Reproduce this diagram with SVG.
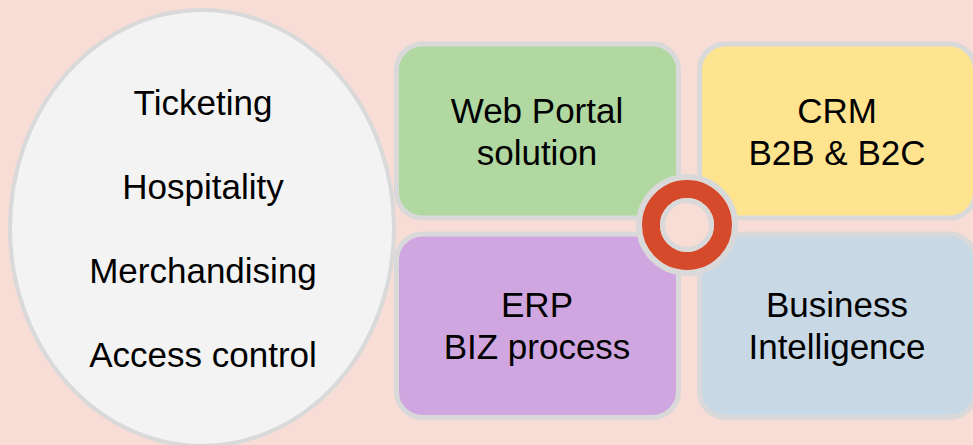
<svg xmlns="http://www.w3.org/2000/svg" width="973" height="445" viewBox="0 0 973 445">
  <style>
    .lbl { font-family: "Liberation Sans", Arial, sans-serif; font-size: 35px; fill: #000; text-anchor: middle; }
    .box { stroke: #d9d9d9; stroke-width: 5; }
  </style>
  <rect x="0" y="0" width="973" height="445" fill="#f8dcd6"/>
  <g id="segments">
    <ellipse cx="202" cy="228" rx="192" ry="218" fill="#f3f3f3" stroke="#d9d9d9" stroke-width="4"/>
    <text class="lbl" x="203" y="115">Ticketing</text>
    <text class="lbl" x="203" y="199">Hospitality</text>
    <text class="lbl" x="203" y="283">Merchandising</text>
    <text class="lbl" x="203" y="367">Access control</text>
  </g>
  <g id="web-portal">
    <rect class="box" x="396.5" y="44" width="282" height="174" rx="26" fill="#b0d8a0"/>
    <text class="lbl" x="537" y="123">Web Portal</text>
    <text class="lbl" x="537" y="165">solution</text>
  </g>
  <g id="crm">
    <rect class="box" x="699.5" y="44" width="276" height="174" rx="26" fill="#ffe490"/>
    <text class="lbl" x="837" y="123">CRM</text>
    <text class="lbl" x="837" y="165">B2B &amp; B2C</text>
  </g>
  <g id="erp">
    <rect class="box" x="396.5" y="234" width="282" height="183.5" rx="26" fill="#d0a6e0"/>
    <text class="lbl" x="537" y="317">ERP</text>
    <text class="lbl" x="537" y="359">BIZ process</text>
  </g>
  <g id="bi">
    <rect class="box" x="699.5" y="234" width="276" height="183.5" rx="26" fill="#c9d8e5"/>
    <text class="lbl" x="837" y="317">Business</text>
    <text class="lbl" x="837" y="359">Intelligence</text>
  </g>
  <g id="ring">
    <circle cx="687" cy="225" r="48" fill="#f8dcd6" stroke="#d9d9d9" stroke-width="6"/>
    <circle cx="687" cy="225" r="36" fill="none" stroke="#d44a2a" stroke-width="18"/>
    <circle cx="687" cy="225" r="24.5" fill="#f8dcd6" stroke="#d9d9d9" stroke-width="5"/>
  </g>
  <g id="connectors"/>
</svg>
